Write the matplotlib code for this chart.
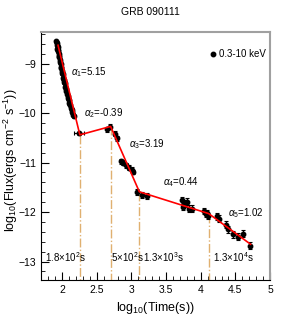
import matplotlib
matplotlib.use("Agg")
import matplotlib.pyplot as plt
from matplotlib.ticker import MultipleLocator

plt.rcParams['font.family'] = ['Liberation Sans', 'DejaVu Sans']
plt.rcParams['mathtext.fontset'] = 'custom'
plt.rcParams['mathtext.rm'] = 'Liberation Sans'
plt.rcParams['mathtext.it'] = 'Liberation Sans:italic'

# light curve points: log10(time), log10(flux)
t_log = [1.915, 1.921, 1.925, 1.930, 1.934, 1.940, 1.945, 1.950, 1.955, 1.960,
         1.966, 1.972, 1.978, 1.984, 1.990, 1.996, 2.003, 2.010, 2.017, 2.024,
         2.031, 2.038, 2.046, 2.054, 2.062, 2.070, 2.078, 2.087, 2.096, 2.105,
         2.115, 2.125, 2.135, 2.146, 2.160, 2.175,
         2.246,
         2.642, 2.690, 2.762, 2.795,
         2.845, 2.882, 2.921, 2.964, 3.003, 3.027,
         3.076, 3.148, 3.220,
         3.726, 3.749, 3.788, 3.807, 3.836, 3.870,
         4.050, 4.070, 4.090, 4.110,
         4.232, 4.270, 4.366, 4.400, 4.470, 4.535, 4.607, 4.713]
f_log = [-8.55, -8.62, -8.58, -8.70, -8.66, -8.75, -8.72, -8.80, -8.86, -8.84,
         -8.92, -8.97, -9.01, -9.06, -9.08, -9.15, -9.20, -9.22, -9.30, -9.33,
         -9.38, -9.40, -9.47, -9.52, -9.55, -9.61, -9.66, -9.70, -9.74, -9.80,
         -9.83, -9.90, -9.93, -9.98, -10.03, -10.06,
         -10.41,
         -10.33, -10.28, -10.42, -10.51,
         -10.97, -11.00, -11.05, -11.10, -11.14, -11.19,
         -11.59, -11.66, -11.68,
         -11.76, -11.89, -11.82, -11.79, -11.93, -11.93,
         -11.98, -12.04, -12.02, -12.07,
         -12.08, -12.13, -12.26, -12.35, -12.45, -12.50, -12.44, -12.68]
f_err = [0.03] * 36 + [0.03] + [0.05] * 4 + [0.05] * 6 + [0.06] * 3 + \
        [0.07] * 6 + [0.06] * 4 + [0.07] * 8
t_err = [0.005] * 36 + [0.07] + [0.01] * 4 + [0.012] * 6 + [0.015] * 3 + \
        [0.01] * 6 + [0.01] * 4 + [0.01] * 8

# broken power-law fit (break points)
fit_t = [1.94, 2.255, 2.699, 3.114, 4.114, 4.72]
fit_f = [-8.63, -10.44, -10.27, -11.59, -12.03, -12.65]
alphas = ['5.15', '-0.39', '3.19', '0.44', '1.02']
alpha_pos = [(2.125, -9.17), (2.315, -10.01), (2.96, -10.63), (3.46, -11.39), (4.39, -12.03)]
break_labels = [r'1.8$\times$10$^{2}$s', r'5$\times$10$^{2}$s',
                r'1.3$\times$10$^{3}$s', r'1.3$\times$10$^{4}$s']
break_text_x = [1.75, 2.70, 3.16, 4.17]

fig = plt.figure(figsize=(3.0, 3.27), dpi=100)
ax = fig.add_axes([0.138, 0.144, 0.762, 0.757])

ylo, yhi = -13.37, -8.37
for bt, bf in zip(fit_t[1:5], fit_f[1:5]):
    ax.plot([bt, bt], [bf, ylo], color='#e0b070', lw=1, ls='-.')

ax.errorbar(t_log, f_log, xerr=t_err, yerr=f_err, fmt='o', color='black',
            ms=3.2, elinewidth=0.9, capsize=1.2, capthick=0.8, zorder=3)
ax.plot(fit_t, fit_f, color='red', lw=1.2, zorder=4)

for i, (a, (px, py)) in enumerate(zip(alphas, alpha_pos)):
    ax.text(px, py, r'$\alpha_{%d}$=%s' % (i + 1, a), fontsize=7, va='center')
for lab, px in zip(break_labels, break_text_x):
    ax.text(px, -12.90, lab, fontsize=7, va='center')

ax.plot([4.18], [-8.81], 'o', color='black', ms=3.2)
ax.text(4.26, -8.81, '0.3-10 keV', fontsize=7, va='center')

ax.set_xlim(1.7, 5.0)
ax.set_ylim(ylo, yhi)
ax.xaxis.set_major_locator(MultipleLocator(0.5))
ax.xaxis.set_minor_locator(MultipleLocator(0.1))
ax.yaxis.set_major_locator(MultipleLocator(1))
ax.yaxis.set_minor_locator(MultipleLocator(0.2))
ax.tick_params(which='both', direction='in', labelsize=7.5, top=False, right=False)
ax.tick_params(which='major', length=6, width=0.8)
ax.tick_params(which='minor', length=3, width=0.6)
ax.set_xticks([2, 2.5, 3, 3.5, 4, 4.5, 5])
ax.set_xticklabels(['2', '2.5', '3', '3.5', '4', '4.5', '5'])
for s in ['top', 'right']:
    ax.spines[s].set_color('#a0a0a0')
    ax.spines[s].set_linewidth(1.5)

fig.text(0.5, 0.963, 'GRB 090111', fontsize=7.5, ha='center', va='center')
fig.text(0.517, 0.058, r'log$_{10}$(Time(s))', fontsize=9, ha='center', va='center')
fig.text(0.035, 0.51, r'log$_{10}$(Flux(ergs cm$^{-2}$ s$^{-1}$))', fontsize=9,
         ha='center', va='center', rotation=90)

fig.savefig('out.png', dpi=100)
